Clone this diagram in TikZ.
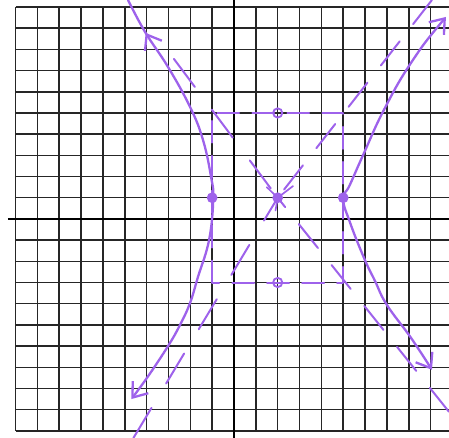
\documentclass[tikz,border=0pt]{standalone}
\usetikzlibrary{arrows.meta, decorations.markings}

\definecolor{pen}{RGB}{158,98,235}

\begin{document}
\begin{tikzpicture}[
    x=0.5cm, y=0.485cm,
    >={Straight Barb[length=3mm, width=4.5mm]},
    gridline/.style={black!85, line width=1pt},
    axisline/.style={black, line width=1.8pt},
    curve/.style={pen, line width=1.5pt, line cap=round, line join=round},
    asym/.style={curve, line width=1.3pt, dash pattern=on 0.7cm off 0.5cm},
    boxline/.style={curve, line width=1.3pt, dash pattern=on 0.5cm off 0.3cm},
    dot/.style={circle, fill=pen, inner sep=0pt, minimum size=7pt},
    ring/.style={circle, draw=pen, line width=1.2pt, inner sep=0pt, minimum size=6pt}
]

\useasboundingbox (-10.71,-10.33) rectangle (9.84,10.33);

% Grid paper
\foreach \x in {-10,...,9} {
    \draw[gridline] (\x,-10) -- (\x,10);
}
\foreach \y in {-10,...,10} {
    \draw[gridline] (-10,\y) -- (9.84,\y);
}

% Axes
\draw[axisline] (-10.35,0) -- (9.84,0);
\draw[axisline] (0,-10.33) -- (0,10.33);

% Key points
\coordinate (ctr) at (2,1);
\coordinate (vl) at (-1,1);
\coordinate (vr) at (5,1);
\coordinate (cvt) at (2,5);
\coordinate (cvb) at (2,-3);

% Central box
\draw[boxline] (-1,-3) rectangle (5,5);

% Asymptotes
\draw[asym] (9.06,10.33) -- (ctr);
\draw[asym, dash pattern=on 0.8cm off 0.65cm] (-4.6,-10.33) -- (ctr);
\draw[asym, dash pattern=on 0.8cm off 0.65cm] (-2.75,7.55) -- (ctr);
\draw[asym] (9.84,-9.1) -- (ctr);

% Left branch
\draw[curve, ->, postaction={decorate},
    decoration={markings, mark=at position 0.085 with {\arrowreversed{>}}}]
    plot[smooth, tension=0.7] coordinates {
        (-4.85,10.33) (-4.07,8.82) (-3.02,7.17) (-2.01,5.28) (-1.42,3.73)
        (-1.05,1.98) (-0.95,0.95) (-1.14,-0.99) (-1.65,-2.74) (-2.01,-3.96)
        (-2.47,-5.0) (-3.02,-6.0) (-3.95,-7.45) (-4.7,-8.5)};

% Right branch
\draw[curve, <->]
    plot[smooth, tension=0.75] coordinates {
        (9.70,9.53) (8.10,7.36) (6.86,5.14) (5.95,3.11) (5.3,1.6)
        (5.0,0.95) (5.3,-0.14) (5.95,-1.84) (6.45,-2.92) (7.0,-4.06)
        (8.1,-5.61) (9.06,-7.12)};

% Centre, vertices, co-vertices
\node[dot] (c) at (ctr) {};
\draw[curve, line width=1.1pt] (ctr) -- ++(-0.5,0.5);
\draw[curve, line width=1.1pt] (ctr) -- ++(0.7,0.55);
\draw[curve, line width=1.1pt] (ctr) -- ++(-0.1,-0.6);
\node[dot] (l) at (vl) {};
\node[dot] (r) at (vr) {};
\node[ring] (t) at (cvt) {};
\node[ring] (b) at (cvb) {};

\end{tikzpicture}
\end{document}
